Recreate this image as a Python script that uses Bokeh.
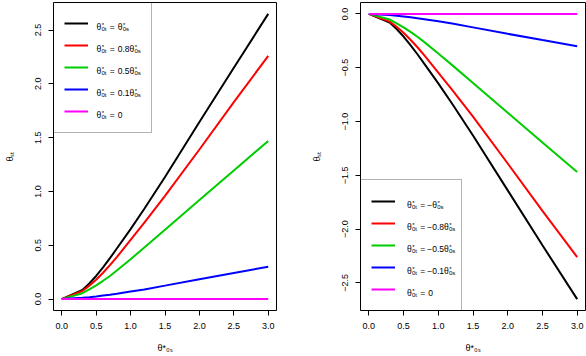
import math
from bokeh.plotting import figure
from bokeh.models import Range1d, FixedTicker, Legend, LegendItem, Label, BoxAnnotation
from bokeh.layouts import row
from bokeh.embed import file_html
from bokeh.resources import INLINE
from bokeh.core.properties import value

# ---------------- data ----------------
x_values = [0.0, 0.3, 0.4, 0.5, 0.6, 0.7, 0.8, 1.0, 1.2, 1.5, 2.0, 2.5, 3.0]

left_full = [0.0, 0.085, 0.145, 0.215, 0.295, 0.38, 0.47, 0.65, 0.84, 1.135, 1.645, 2.15, 2.65]
left_08 = [0.0, 0.075, 0.125, 0.18, 0.245, 0.315, 0.39, 0.55, 0.71, 0.96, 1.39, 1.83, 2.26]
left_05 = [0.0, 0.055, 0.09, 0.128, 0.17, 0.215, 0.265, 0.37, 0.48, 0.645, 0.92, 1.195, 1.47]
left_01 = [0.0, 0.012, 0.018, 0.025, 0.033, 0.041, 0.05, 0.07, 0.09, 0.125, 0.185, 0.243, 0.30]
left_zero = [0.0] * 13

right_full = [0.0, -0.08, -0.14, -0.21, -0.29, -0.375, -0.465, -0.645, -0.835, -1.13, -1.64, -2.15, -2.65]
right_08 = [0.0, -0.072, -0.12, -0.175, -0.24, -0.31, -0.385, -0.545, -0.705, -0.955, -1.39, -1.83, -2.26]
right_05 = [0.0, -0.052, -0.087, -0.125, -0.167, -0.212, -0.262, -0.367, -0.476, -0.642, -0.918, -1.194, -1.47]
right_01 = [0.0, -0.011, -0.017, -0.024, -0.032, -0.04, -0.049, -0.069, -0.09, -0.125, -0.185, -0.243, -0.30]
right_zero = [0.0] * 13

x_ticks = [0.0, 0.5, 1.0, 1.5, 2.0, 2.5, 3.0]
x_tick_labels = ["0.0", "0.5", "1.0", "1.5", "2.0", "2.5", "3.0"]
left_y_ticks = [0.0, 0.5, 1.0, 1.5, 2.0, 2.5]
left_y_tick_labels = ["0.0", "0.5", "1.0", "1.5", "2.0", "2.5"]
right_y_ticks = [-2.5, -2.0, -1.5, -1.0, -0.5, 0.0]
right_y_tick_labels = ["\u22122.5", "\u22122.0", "\u22121.5", "\u22121.0", "\u22120.5", "0.0"]

x_title = "\u03b8*\u2080\u209b"
y_title = "\u03b8\u209b\u209c"

line_colors = ["#000000", "#FF0000", "#00CD00", "#0000FF", "#FF00FF"]
coefficients = ["", "0.8", "0.5", "0.1"]

FONT = "Liberation Sans"
FH = 308

WID = {"\u03b8": 0.556, "*": 0.389, ".": 0.278, " ": 0.278, "=": 0.584,
       "\u2212": 0.584, "t": 0.278, "s": 0.5}


def tw(s, fs):
    return sum(WID.get(c, 0.556) for c in s) * fs


class Frame:
    def __init__(self, xr, yr, fw, fh):
        self.xr, self.yr, self.fw, self.fh = xr, yr, fw, fh

    def x(self, px):
        return self.xr[0] + px * (self.xr[1] - self.xr[0]) / self.fw

    def y(self, py):
        return self.yr[1] - py * (self.yr[1] - self.yr[0]) / self.fh


def rich(p, fr, px, py, tokens, size=8.5, small=6.0):
    pos = 0.0

    def put(text, along, down, fs):
        p.add_layout(Label(x=fr.x(px + along), y=fr.y(py + down), text=text,
                           text_font=FONT, text_font_size=f"{fs}px",
                           text_align="left", text_baseline="alphabetic",
                           text_color="black"))

    for tok in tokens:
        if tok[0] == "t":
            put(tok[1], pos, 0, size)
            pos += tw(tok[1], size)
        elif tok[0] == "g":
            pos += tok[1]
        else:
            sup, sub = tok[1], tok[2]
            if sup:
                put(sup, pos + 0.6, -2.0, small)
            if sub:
                put(sub, pos + 0.3, 2.6, small)
            pos += 0.5 + max(tw(sup, small), tw(sub, small))


def make_fig(width, bl, br, ys, yticks, ylabels):
    lo = min(min(s) for s in ys)
    hi = max(max(s) for s in ys)
    pad = 0.04 * (hi - lo)
    xr = (-0.12, 3.12)
    yr = (lo - pad, hi + pad)
    p = figure(width=width, height=356, output_backend="svg", toolbar_location=None,
               x_range=Range1d(*xr), y_range=Range1d(*yr),
               min_border_left=bl, min_border_right=br, min_border_top=2, min_border_bottom=46)
    p.grid.visible = False
    p.outline_line_color = "black"
    p.outline_line_width = 1
    p.outline_line_alpha = 1
    p.background_fill_color = "white"
    p.border_fill_color = "white"
    for ax in (p.xaxis[0], p.yaxis[0]):
        ax.axis_line_color = None
        ax.major_tick_out = 5
        ax.major_tick_in = 0
        ax.major_tick_line_color = "black"
        ax.minor_tick_line_color = None
        ax.major_label_text_font = FONT
        ax.major_label_text_font_size = "9px"
        ax.major_label_text_color = "black"
        ax.major_label_standoff = 7
        ax.axis_label_text_font = FONT
        ax.axis_label_text_font_size = "9px"
        ax.axis_label_text_font_style = "normal"
        ax.axis_label_text_color = "black"
    p.xaxis.ticker = FixedTicker(ticks=x_ticks)
    p.xaxis.major_label_overrides = {float(t): l for t, l in zip(x_ticks, x_tick_labels)}
    p.xaxis.axis_label = x_title
    p.xaxis.axis_label_standoff = 11
    p.yaxis.ticker = FixedTicker(ticks=yticks)
    p.yaxis.major_label_overrides = {float(t): l for t, l in zip(yticks, ylabels)}
    p.yaxis.major_label_orientation = "vertical"
    p.yaxis.axis_label = y_title
    p.yaxis.axis_label_standoff = 18
    renderers = []
    for s, c in zip(ys, line_colors):
        renderers.append(p.line(x_values, s, line_color=c, line_width=2))
    fw = width - bl - br
    return p, Frame(xr, yr, fw, FH), renderers


def legend_rows(negative):
    rows = []
    sign = "\u2212" if negative else ""
    for c in coefficients:
        rows.append([("t", "\u03b8"), ("ss", "*", "0t"), ("g", 3.0), ("t", "="),
                     ("g", 2.0 if negative else 3.0), ("t", sign + c + "\u03b8"), ("ss", "*", "0s")])
    rows.append([("t", "\u03b8"), ("ss", "*", "0t"), ("g", 3.0), ("t", "="), ("g", 3.0), ("t", "0")])
    return rows


def add_legend(p, fr, renderers, location, box_w, box_h, text_x, negative):
    top = 0 if location == "top_left" else FH - box_h
    p.add_layout(BoxAnnotation(left=fr.x(0), right=fr.x(box_w), top=fr.y(top),
                               bottom=fr.y(top + box_h), fill_alpha=0,
                               line_color="black", line_width=1))
    leg = Legend(items=[LegendItem(label=value(" "), renderers=[r]) for r in renderers],
                 location=location, margin=11, padding=0, spacing=2,
                 glyph_width=24, glyph_height=20, label_height=20, label_width=1,
                 label_standoff=0, label_text_font_size="6px",
                 border_line_color=None, background_fill_alpha=0)
    p.add_layout(leg)
    leg_h = 22 + 5 * 20 + 4 * 2
    leg_top = 0 if location == "top_left" else FH - leg_h
    for i, toks in enumerate(legend_rows(negative)):
        cy = leg_top + 11 + 10 + 22 * i
        rich(p, fr, text_x, cy + 3.3, toks)


# ---------------- left panel ----------------
p1, f1, r1 = make_fig(300, 53, 24, [left_full, left_08, left_05, left_01, left_zero],
                      left_y_ticks, left_y_tick_labels)
add_legend(p1, f1, r1, "top_left", 98, 130, 43, False)

# ---------------- right panel ----------------
p2, f2, r2 = make_fig(286, 60, 1, [right_full, right_08, right_05, right_01, right_zero],
                      right_y_ticks, right_y_tick_labels)
add_legend(p2, f2, r2, "bottom_left", 101, 131, 46.5, True)

layout = row(p1, p2)
open("out.html", "w").write(file_html(layout, INLINE))
